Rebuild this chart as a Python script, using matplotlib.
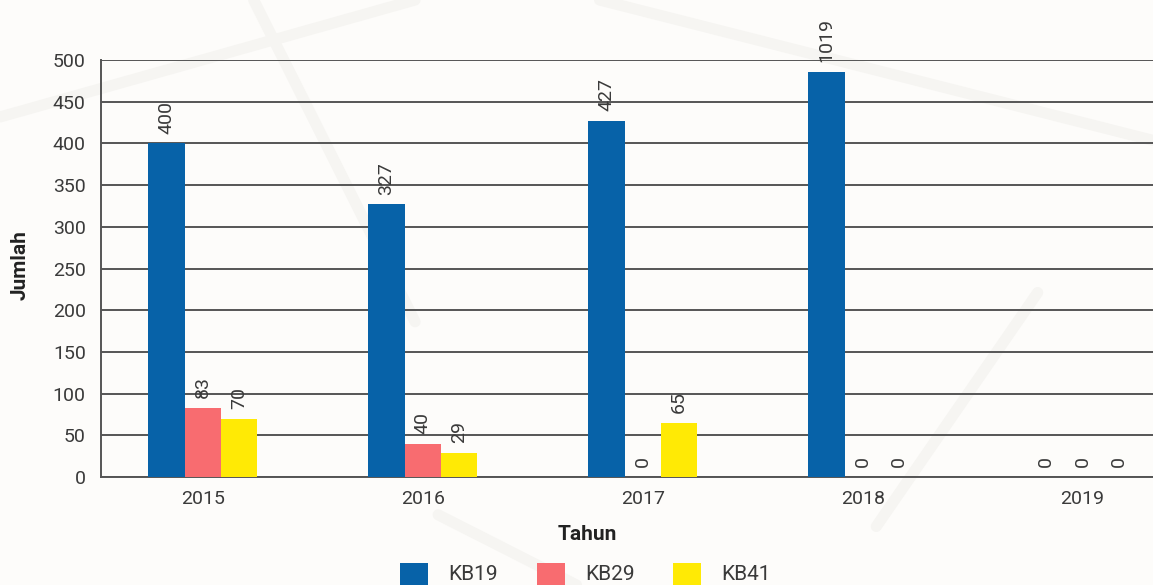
import matplotlib
matplotlib.use("Agg")
import matplotlib.pyplot as plt
from matplotlib.lines import Line2D
from matplotlib.patches import Rectangle
import numpy as np

plt.rcParams["font.family"] = ["Roboto", "DejaVu Sans"]

years = ["2015", "2016", "2017", "2018", "2019"]
series_names = ["KB19", "KB29", "KB41"]
kb19 = [400, 327, 427, 1019, 0]
kb29 = [83, 40, 0, 0, 0]
kb41 = [70, 29, 65, 0, 0]
colors = ["#0762A8", "#F86C70", "#FFEA05"]

W, H = 1153, 585
bg = "#FDFCFA"
text_color = "#3A3A3A"
grid_color = "#555555"

fig = plt.figure(figsize=(W / 100, H / 100), dpi=100, facecolor=bg)

# faint decorative strokes in the background
for (x0, y0, x1, y1) in [
    (0.0, 0.80, 0.36, 1.0),
    (0.22, 1.0, 0.36, 0.45),
    (0.52, 1.0, 1.0, 0.76),
    (0.90, 0.50, 0.76, 0.10),
    (0.38, 0.12, 0.50, 0.0),
]:
    fig.add_artist(Line2D([x0, x1], [y0, y1], transform=fig.transFigure,
                          color="#F6F5F2", lw=8, solid_capstyle="round", zorder=-5))

ax = fig.add_axes([101 / W, 1 - 477 / H, 1 - 101 / W, (477 - 60) / H])
ax.patch.set_alpha(0)

x = np.arange(len(years))
width = 0.165
offsets = [-width, 0, width]
ymax = 500
cap = 0.972  # overflowing bars stop just under the top gridline

bar_clip = Rectangle((0, 0), 1, cap, transform=ax.transAxes)
for vals, off, col in zip([kb19, kb29, kb41], offsets, colors):
    bars = ax.bar(x + off, vals, width=width, color=col, zorder=3)
    for b in bars:
        b.set_clip_path(bar_clip)
    for xi, v in zip(x, vals):
        top = v if v <= ymax * cap else ymax * cap
        ax.annotate(str(v), xy=(xi + off, top), xytext=(0, 7),
                    textcoords="offset points", rotation=90, ha="center",
                    va="bottom", fontsize=14, color=text_color,
                    annotation_clip=False, zorder=4)

ax.set_ylim(0, ymax)
ax.set_xlim(-0.463, 4.32)
ax.set_yticks(np.arange(0, 501, 50))
ax.set_xticks(x)
ax.set_xticklabels(years)
ax.tick_params(axis="both", length=0, labelsize=14, colors=text_color)
ax.tick_params(axis="y", pad=11)
ax.tick_params(axis="x", pad=9)
ax.grid(axis="y", color=grid_color, lw=1.4, zorder=1)
ax.set_axisbelow(True)
for s in ["top", "right"]:
    ax.spines[s].set_visible(False)
for s in ["left", "bottom"]:
    ax.spines[s].set_color(grid_color)
    ax.spines[s].set_linewidth(1.4)

fig.text(587 / W, 1 - 535 / H, "Tahun", fontsize=15, fontweight="bold",
         color="#222222", ha="center", va="center")
fig.text(20 / W, 1 - 265 / H, "Jumlah", fontsize=15, fontweight="bold",
         color="#222222", ha="center", va="center", rotation=90)

# legend row
legend_x = [400, 537, 673]
for lx, name, col in zip(legend_x, series_names, colors):
    fig.add_artist(Rectangle((lx / W, 1 - 591 / H), 28 / W, 28 / H,
                             transform=fig.transFigure, facecolor=col,
                             edgecolor="none"))
    fig.text((lx + 48) / W, 1 - 575 / H, name, fontsize=15, color=text_color,
             ha="left", va="center")

fig.savefig("out.png", dpi=100, facecolor=bg)
